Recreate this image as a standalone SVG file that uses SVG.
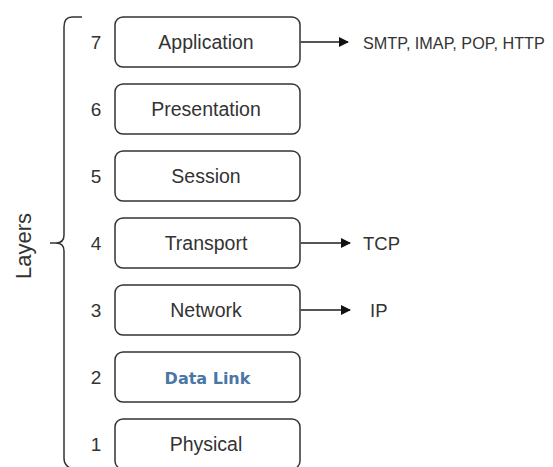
<svg xmlns="http://www.w3.org/2000/svg" width="553" height="467" viewBox="0 0 553 467">
  <style>
    .box { fill: #ffffff; stroke: #333333; stroke-width: 1.5; }
    .lbl { font-family: "Liberation Sans", Arial, sans-serif; font-size: 19.5px; fill: #333333; text-anchor: middle; dominant-baseline: central; }
    .num { font-family: "Liberation Sans", Arial, sans-serif; font-size: 19px; fill: #333333; text-anchor: middle; dominant-baseline: central; }
    .proto { font-family: "Liberation Sans", Arial, sans-serif; font-size: 18.5px; fill: #333333; dominant-baseline: central; }
    .proto-sm { font-size: 16.2px; }
    .link { stroke: #555555; stroke-width: 2; fill: none; marker-end: url(#head); }
    .brace { stroke: #333333; stroke-width: 1.5; fill: none; }
  </style>
  <defs>
    <marker id="head" viewBox="0 0 10 10" refX="9" refY="5" markerWidth="5" markerHeight="5" orient="auto" markerUnits="strokeWidth">
      <path d="M0,0 L10,5 L0,10 z" fill="#111111"/>
    </marker>
  </defs>
  <rect width="553" height="467" fill="#ffffff"/>

  <!-- curly brace grouping the stack -->
  <g id="layers-brace">
    <path class="brace" d="M82,17 L72,17 Q64,17 64,27 L64,235 Q64,243 56,243 L50,243 M56,243 Q64,243 64,251 L64,458 Q64,465 70,468"/>
    <text transform="translate(23,246) rotate(-90)" class="lbl" style="font-size:22px">Layers</text>
  </g>

  <g id="layer7">
    <rect class="box" x="115" y="17" width="185" height="50" rx="8"/>
    <text class="lbl" x="206" y="42">Application</text>
    <text class="num" x="96" y="42">7</text>
  </g>
  <g id="layer6">
    <rect class="box" x="115" y="84" width="185" height="50" rx="8"/>
    <text class="lbl" x="206" y="109">Presentation</text>
    <text class="num" x="96" y="109">6</text>
  </g>
  <g id="layer5">
    <rect class="box" x="115" y="151" width="185" height="50" rx="8"/>
    <text class="lbl" x="206" y="176">Session</text>
    <text class="num" x="96" y="176">5</text>
  </g>
  <g id="layer4">
    <rect class="box" x="115" y="218" width="185" height="50" rx="8"/>
    <text class="lbl" x="206" y="243">Transport</text>
    <text class="num" x="96" y="243">4</text>
  </g>
  <g id="layer3">
    <rect class="box" x="115" y="285" width="185" height="50" rx="8"/>
    <text class="lbl" x="206" y="310">Network</text>
    <text class="num" x="96" y="310">3</text>
  </g>
  <g id="layer2">
    <rect class="box" x="115" y="352" width="185" height="50" rx="8"/>
    <text class="lbl" x="207.5" y="378" style="font-family:'DejaVu Sans',Verdana,sans-serif;font-size:16px;font-weight:bold;fill:#4a76a6">Data Link</text>
    <text class="num" x="96" y="377">2</text>
  </g>
  <g id="layer1">
    <rect class="box" x="115" y="419" width="185" height="50" rx="8"/>
    <text class="lbl" x="206" y="444">Physical</text>
    <text class="num" x="96" y="444">1</text>
  </g>

  <g id="connectors">
    <line class="link" x1="300" y1="42" x2="348" y2="42"/>
    <line class="link" x1="300" y1="243" x2="350" y2="243"/>
    <line class="link" x1="300" y1="310" x2="350" y2="310"/>
  </g>

  <g id="protocols">
    <text class="proto proto-sm" x="363" y="43">SMTP, IMAP, POP, HTTP</text>
    <text class="proto" x="363" y="243">TCP</text>
    <text class="proto" x="370" y="310">IP</text>
  </g>
</svg>
